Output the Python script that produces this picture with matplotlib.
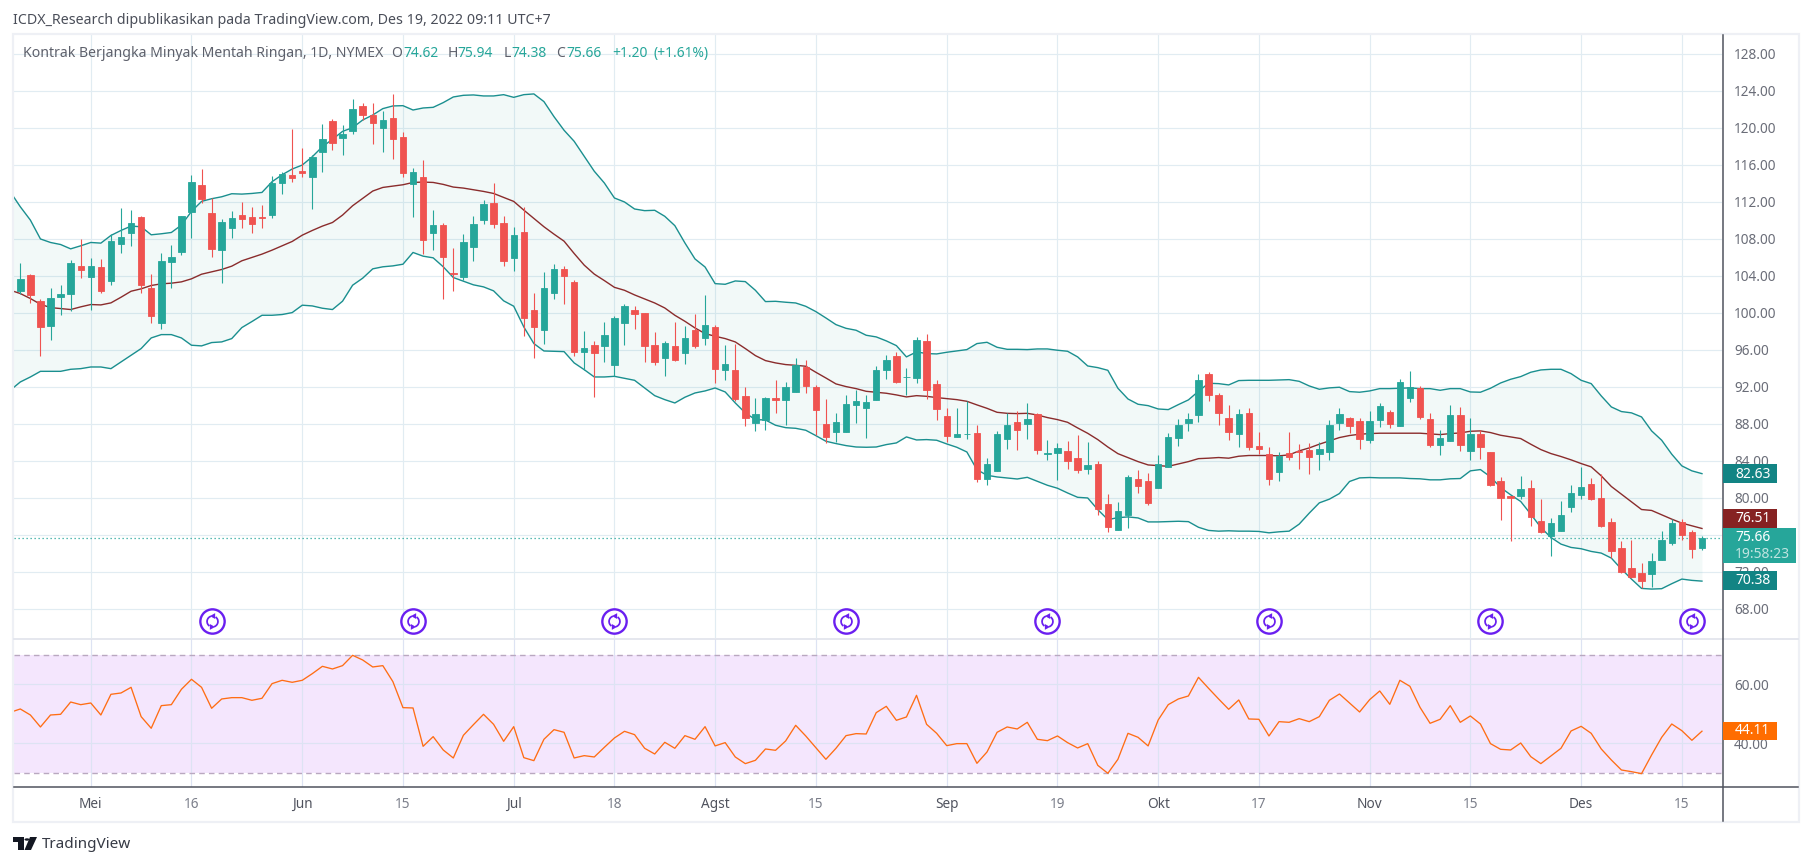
import numpy as np
import matplotlib

matplotlib.use("Agg")
import matplotlib.pyplot as plt
from matplotlib.lines import Line2D
from matplotlib.path import Path
from matplotlib.patches import Rectangle, Polygon, Wedge

# ── Candles ───────────────────────────────────────────────────────────────────
open_ = [
    102.39, 104.05, 101.34, 98.60, 101.74, 102.06, 105.13, 103.90, 105.02, 103.47,
    107.48, 108.67, 110.33, 102.68, 98.92, 105.53, 106.61, 110.94, 113.79, 110.76,
    106.83, 109.21, 110.54, 110.33, 110.33, 110.61, 114.08, 114.87, 115.30, 114.73,
    117.43, 120.72, 118.95, 119.71, 122.34, 121.37, 120.03, 121.08, 119.02, 113.97,
    114.66, 108.67, 109.46, 104.37, 103.90, 107.15, 110.04, 111.84, 109.68, 105.96,
    108.70, 100.37, 98.17, 102.17, 104.70, 103.40, 95.79, 96.58, 96.40, 94.34,
    98.89, 100.33, 100.00, 96.54, 95.10, 96.43, 95.64, 98.20, 97.26, 98.49,
    93.80, 93.84, 91.03, 88.07, 88.47, 90.81, 90.56, 91.50, 94.16, 92.04,
    88.04, 87.10, 87.10, 90.02, 89.69, 90.56, 93.80, 95.35, 93.05, 92.94,
    96.98, 92.33, 88.87, 86.56, 86.88, 87.03, 82.02, 82.88, 86.34, 88.22,
    87.97, 89.05, 84.76, 84.83, 85.08, 84.32, 83.10, 83.68, 79.35, 76.50,
    78.13, 82.05, 81.84, 81.05, 83.32, 86.45, 88.07, 88.94, 93.41, 91.14,
    88.65, 86.96, 89.19, 85.63, 84.73, 82.86, 84.84, 85.05, 85.20, 84.80,
    85.02, 88.15, 88.65, 88.29, 86.31, 88.44, 89.27, 87.83, 90.85, 91.86,
    88.51, 85.77, 86.21, 88.94, 85.13, 86.89, 84.95, 81.81, 80.19, 80.16,
    81.06, 77.49, 75.84, 76.45, 78.97, 80.34, 81.49, 79.98, 77.39, 74.58,
    72.42, 71.88, 71.73, 73.25, 75.15, 77.39, 76.34, 74.62,
]
close = [
    103.72, 101.96, 98.49, 101.67, 102.03, 105.35, 104.66, 105.13, 102.35, 107.73,
    108.16, 109.68, 103.00, 99.68, 105.67, 106.10, 110.43, 114.11, 112.35, 106.93,
    109.78, 110.22, 110.18, 109.64, 110.25, 114.04, 114.98, 114.62, 115.16, 116.82,
    118.77, 118.41, 119.31, 122.02, 121.44, 120.57, 120.83, 118.84, 115.16, 115.20,
    107.91, 109.46, 106.07, 104.23, 107.62, 109.57, 111.73, 109.64, 105.64, 108.38,
    99.50, 98.49, 102.75, 104.70, 104.01, 95.79, 96.25, 95.68, 97.62, 99.46,
    100.80, 99.86, 96.40, 94.67, 96.76, 94.92, 97.30, 96.40, 98.70, 93.95,
    94.49, 90.67, 88.61, 89.08, 90.81, 90.56, 92.00, 94.38, 92.07, 89.48,
    86.56, 88.22, 90.20, 90.49, 90.38, 93.84, 94.92, 92.51, 93.12, 97.08,
    91.64, 89.59, 86.67, 86.92, 86.96, 82.02, 83.68, 86.92, 87.89, 87.32,
    88.54, 85.15, 84.90, 85.41, 83.96, 82.99, 83.57, 78.78, 76.83, 78.59,
    82.27, 81.26, 79.50, 83.68, 86.60, 87.89, 88.54, 92.76, 91.10, 89.23,
    87.18, 89.05, 85.52, 85.31, 82.00, 84.55, 84.48, 84.98, 84.48, 85.31,
    87.90, 89.05, 87.83, 86.42, 88.29, 89.95, 88.04, 92.51, 91.97, 88.80,
    85.74, 86.46, 88.94, 85.74, 86.89, 85.56, 81.35, 80.01, 79.98, 80.95,
    77.89, 76.27, 77.28, 78.18, 80.52, 81.17, 79.94, 76.92, 74.22, 71.95,
    71.41, 70.98, 73.17, 75.44, 77.28, 76.02, 74.43, 75.66,
]
high = [
    105.35, 104.16, 101.49, 102.75, 103.00, 105.71, 107.98, 105.89, 105.78, 108.59,
    111.30, 111.08, 110.43, 104.19, 106.43, 107.30, 110.51, 114.87, 115.56, 112.38,
    110.11, 110.98, 111.99, 111.44, 111.66, 114.80, 115.20, 119.89, 117.79, 117.07,
    120.43, 120.93, 120.28, 123.13, 122.70, 122.67, 121.84, 123.64, 119.53, 115.63,
    116.53, 111.12, 109.68, 107.01, 108.52, 110.47, 112.20, 114.04, 110.47, 109.24,
    111.41, 102.14, 104.48, 105.24, 105.06, 103.51, 98.02, 97.01, 99.03, 99.64,
    100.98, 100.80, 100.04, 97.98, 97.01, 99.03, 98.60, 99.89, 101.98, 98.70,
    96.54, 96.69, 92.04, 90.81, 90.96, 92.79, 92.58, 95.17, 94.92, 92.25,
    90.74, 89.19, 91.14, 91.71, 91.14, 94.27, 95.46, 95.79, 94.09, 97.41,
    97.73, 92.76, 89.73, 89.73, 90.45, 87.89, 84.32, 87.24, 89.15, 89.41,
    90.27, 89.19, 86.27, 85.95, 86.16, 86.81, 86.05, 84.00, 80.43, 79.57,
    82.49, 83.06, 82.70, 84.65, 87.03, 88.54, 89.19, 93.41, 93.62, 91.32,
    90.06, 89.59, 89.73, 87.14, 85.49, 84.95, 87.10, 85.85, 85.92, 86.03,
    88.40, 89.73, 88.76, 88.62, 89.37, 90.27, 89.55, 92.83, 93.73, 92.11,
    89.16, 87.32, 90.06, 89.81, 88.62, 87.39, 84.98, 82.28, 80.23, 82.35,
    81.96, 79.87, 77.85, 79.65, 81.38, 83.33, 82.17, 82.64, 77.78, 75.37,
    75.48, 73.00, 74.04, 76.41, 77.71, 77.71, 76.52, 75.94,
]
low = [
    102.10, 101.13, 95.35, 97.08, 99.79, 100.26, 103.80, 100.30, 102.17, 103.00,
    106.50, 107.22, 102.17, 98.92, 98.28, 102.75, 106.25, 108.09, 111.91, 106.07,
    103.25, 108.12, 109.21, 108.67, 109.21, 110.29, 112.89, 114.19, 114.66, 111.26,
    115.27, 117.65, 117.11, 119.31, 120.83, 118.30, 117.43, 116.68, 114.66, 110.40,
    106.36, 106.79, 101.52, 102.39, 103.61, 105.64, 109.60, 109.21, 105.06, 104.55,
    97.52, 95.14, 96.62, 101.52, 100.95, 95.35, 93.87, 90.91, 94.67, 93.15,
    96.58, 98.24, 94.67, 94.34, 93.15, 94.85, 94.45, 96.18, 96.51, 92.47,
    92.72, 90.45, 87.75, 87.21, 87.39, 89.15, 87.86, 91.42, 91.32, 86.85,
    85.91, 86.02, 87.10, 88.07, 86.45, 90.56, 92.90, 92.40, 91.17, 92.40,
    90.67, 88.40, 86.05, 86.56, 86.34, 81.69, 81.37, 82.88, 85.33, 85.23,
    86.34, 84.72, 84.07, 81.91, 83.17, 82.67, 82.56, 78.20, 76.36, 76.50,
    76.72, 80.50, 79.28, 81.05, 83.32, 85.59, 87.21, 88.18, 90.49, 87.90,
    86.28, 85.56, 85.23, 84.73, 81.35, 81.78, 84.12, 83.15, 82.64, 83.04,
    84.12, 87.36, 87.07, 85.34, 85.95, 87.68, 87.57, 87.83, 90.38, 88.58,
    85.52, 84.66, 86.17, 85.13, 84.05, 84.26, 81.27, 77.67, 75.30, 79.87,
    76.92, 76.23, 73.68, 76.38, 78.43, 79.94, 79.73, 76.81, 73.50, 71.88,
    71.30, 70.26, 70.33, 73.25, 74.94, 75.44, 73.46, 74.38,
]

# ── Bollinger bands and RSI (first value belongs to the bar before the window) ─
bb_upper = [
    113.10, 111.48, 110.04, 108.00, 107.62, 107.40, 106.93, 107.26, 107.62, 107.55,
    108.38, 108.92, 109.39, 109.32, 108.45, 108.56, 108.70, 109.50, 110.98, 112.06,
    112.35, 112.56, 112.89, 112.85, 112.92, 113.03, 114.19, 114.94, 115.56, 115.99,
    116.89, 117.98, 118.77, 119.63, 120.03, 120.86, 121.40, 122.09, 122.38, 122.41,
    121.94, 122.16, 122.23, 122.74, 123.35, 123.53, 123.57, 123.46, 123.46, 123.60,
    123.31, 123.60, 123.68, 122.85, 121.22, 119.75, 118.56, 116.94, 115.32, 114.05,
    112.43, 112.00, 111.24, 111.06, 111.10, 110.45, 109.44, 107.57, 105.84, 104.97,
    103.17, 103.10, 103.46, 103.39, 102.45, 101.23, 101.26, 101.16, 101.08, 100.72,
    100.15, 99.46, 98.74, 98.34, 98.13, 97.59, 97.41, 96.98, 96.47, 95.25,
    95.79, 95.61, 95.57, 95.75, 95.89, 96.04, 96.69, 96.83, 96.29, 96.07,
    96.07, 96.04, 96.11, 96.11, 95.97, 95.86, 95.25, 94.27, 94.09, 93.80,
    91.86, 90.70, 90.13, 89.98, 89.62, 89.55, 90.09, 90.60, 91.53, 92.40,
    92.36, 92.22, 92.69, 92.72, 92.72, 92.72, 92.76, 92.79, 92.61, 92.11,
    91.75, 91.90, 91.97, 91.50, 91.43, 91.57, 91.82, 91.82, 91.86, 91.90,
    91.82, 91.82, 91.64, 91.82, 91.82, 91.46, 91.43, 91.86, 92.43, 92.83,
    93.12, 93.59, 93.84, 93.91, 93.91, 93.44, 92.72, 92.36, 91.03, 89.84,
    89.34, 89.20, 88.76, 87.25, 86.24, 84.73, 83.47, 82.93, 82.63,
]
bb_basis = [
    102.46, 102.10, 101.56, 100.94, 100.58, 100.48, 100.37, 100.66, 100.91, 100.87,
    101.09, 101.70, 102.35, 102.61, 102.97, 103.15, 103.22, 103.36, 103.69, 104.19,
    104.44, 104.70, 105.06, 105.64, 106.00, 106.36, 106.79, 107.26, 107.73, 108.41,
    108.92, 109.39, 109.78, 110.58, 111.59, 112.38, 113.18, 113.57, 113.72, 113.86,
    114.11, 114.15, 114.11, 113.90, 113.61, 113.50, 113.32, 113.14, 112.92, 112.49,
    112.06, 111.12, 110.22, 109.32, 108.52, 107.76, 106.43, 105.17, 104.20, 103.50,
    102.77, 102.45, 101.95, 101.51, 101.08, 100.54, 99.75, 99.10, 98.38, 97.77,
    97.48, 97.23, 96.87, 96.15, 95.39, 94.85, 94.60, 94.42, 94.34, 94.24,
    93.59, 92.97, 92.33, 92.04, 91.82, 91.53, 91.43, 91.32, 91.14, 90.92,
    91.06, 90.99, 90.85, 90.74, 90.63, 90.45, 90.06, 89.69, 89.26, 89.15,
    89.12, 89.15, 88.97, 88.69, 88.47, 88.18, 87.57, 86.99, 86.31, 85.51,
    84.79, 84.36, 83.93, 83.57, 83.50, 83.42, 83.68, 83.93, 84.25, 84.30,
    84.37, 84.30, 84.51, 84.59, 84.59, 84.59, 84.55, 84.66, 85.09, 85.41,
    85.81, 86.17, 86.53, 86.75, 86.89, 86.96, 87.00, 87.00, 87.00, 87.00,
    87.00, 86.93, 86.85, 86.96, 87.03, 87.21, 87.25, 87.07, 86.78, 86.60,
    86.42, 85.81, 85.23, 84.80, 84.48, 84.12, 83.72, 83.36, 82.39, 81.24,
    80.41, 79.58, 78.75, 78.65, 78.18, 77.71, 77.28, 76.99, 76.70,
]
bb_lower = [
    91.64, 92.54, 93.08, 93.69, 93.69, 93.69, 93.91, 93.98, 94.16, 94.16,
    93.98, 94.70, 95.43, 96.15, 97.30, 97.66, 97.66, 97.30, 96.51, 96.44,
    96.80, 96.87, 97.23, 98.42, 99.07, 99.75, 99.75, 99.83, 100.04, 100.84,
    100.76, 100.51, 100.37, 101.27, 103.00, 103.76, 104.77, 104.99, 105.09, 105.27,
    106.54, 106.14, 105.96, 104.99, 103.83, 103.43, 103.04, 102.82, 102.39, 101.31,
    100.73, 98.49, 96.69, 95.89, 95.86, 95.82, 94.60, 93.87, 93.08, 93.08,
    93.15, 92.94, 92.72, 91.89, 91.06, 90.63, 90.27, 90.89, 91.35, 91.57,
    91.89, 91.46, 90.27, 89.19, 88.47, 88.43, 87.86, 87.60, 87.53, 87.32,
    86.74, 86.13, 85.88, 85.66, 85.51, 85.48, 85.51, 85.77, 85.95, 86.60,
    86.27, 86.31, 86.24, 85.84, 85.48, 84.97, 83.06, 82.45, 82.27, 82.16,
    82.05, 82.23, 81.80, 81.37, 81.05, 80.54, 80.07, 80.00, 78.74, 77.66,
    77.87, 77.95, 77.84, 77.41, 77.41, 77.44, 77.48, 77.44, 76.83, 76.49,
    76.41, 76.45, 76.41, 76.41, 76.38, 76.23, 76.34, 76.41, 77.17, 78.36,
    79.47, 79.87, 80.48, 81.78, 82.17, 82.21, 82.17, 82.17, 82.17, 82.10,
    82.07, 81.96, 81.96, 82.07, 82.10, 82.93, 83.07, 82.28, 81.13, 80.34,
    79.62, 78.25, 76.81, 75.73, 75.01, 74.65, 74.51, 74.22, 74.04, 73.50,
    72.31, 71.23, 70.22, 70.15, 70.19, 70.73, 71.23, 71.09, 71.01,
]
rsi = [
    50.50, 51.64, 49.60, 45.54, 49.60, 49.83, 54.00, 53.10, 53.67, 49.60,
    56.61, 57.06, 58.98, 49.04, 45.10, 52.77, 53.10, 58.31, 61.70, 58.98,
    51.87, 55.03, 55.48, 55.48, 54.58, 55.26, 60.23, 61.36, 60.68, 61.36,
    63.62, 66.10, 65.20, 66.33, 69.83, 68.25, 65.88, 66.33, 60.91, 52.09,
    51.98, 38.98, 42.26, 37.74, 35.03, 42.71, 46.33, 49.83, 46.44, 40.68,
    45.65, 35.14, 34.12, 41.36, 44.63, 43.73, 35.03, 35.82, 35.37, 38.64,
    41.81, 44.07, 42.94, 38.31, 36.38, 40.34, 38.31, 42.60, 41.36, 45.65,
    39.12, 40.23, 35.37, 33.11, 34.24, 38.08, 37.63, 40.79, 46.10, 42.49,
    38.53, 34.58, 38.31, 42.60, 43.28, 43.16, 50.40, 52.54, 47.80, 48.93,
    56.27, 46.44, 43.39, 39.21, 39.89, 39.89, 33.22, 37.06, 43.73, 45.54,
    44.86, 47.12, 41.36, 40.90, 42.49, 40.23, 38.42, 39.89, 32.54, 29.83,
    34.58, 43.39, 42.03, 39.12, 47.91, 53.11, 55.03, 56.05, 62.37, 58.65,
    55.03, 51.53, 54.69, 48.25, 48.14, 42.49, 47.34, 47.12, 48.36, 47.34,
    49.04, 54.58, 56.72, 53.67, 50.62, 54.80, 57.74, 53.22, 61.36, 59.32,
    52.20, 46.78, 48.14, 52.77, 47.12, 49.27, 46.55, 39.89, 37.97, 37.74,
    40.11, 35.48, 33.11, 35.71, 38.31, 44.18, 45.76, 43.39, 38.08, 34.35,
    30.96, 30.39, 29.72, 36.05, 42.03, 46.55, 44.29, 41.02, 44.11,
]

# ── Axis contents ─────────────────────────────────────────────────────────────
date_bars = [8, 18, 29, 39, 50, 60, 70, 80, 93, 104, 114, 124, 135, 145, 156, 166]
date_labels = ["Mei", "16", "Jun", "15", "Jul", "18", "Agst", "15",
               "Sep", "19", "Okt", "17", "Nov", "15", "Des", "15"]
month_names = ["Mei", "Jun", "Jul", "Agst", "Sep", "Okt", "Nov", "Des"]
price_ticks = [68, 72, 76, 80, 84, 88, 92, 96, 100, 104, 108, 112, 116, 120, 124, 128]
rsi_ticks = [40, 60]
rollover_bars = [20, 40, 60, 83, 103, 125, 147, 167]

# ── Colours and layout (pixels of the 1813x866 picture) ───────────────────────
W, H = 1813, 866
UP, DOWN = "#26a69a", "#ef5350"
GRID = "#e1ecf2"
TEXT = "#5d606b"
AXIS = "#50535e"
BAND = "#1a8f8f"
BOX_BAND = "#128484"
BOX_BASIS = "#862222"
ORANGE = "#ff6d00"
PURPLE = "#6a1ff0"
plt.rcParams["font.family"] = ["Noto Sans", "DejaVu Sans"]


def fx(x):
    return x / W


def fy(y):
    return 1 - y / H


def pane(left, top, right, bottom):
    return fig.add_axes([fx(left), fy(bottom), (right - left) / W, (bottom - top) / H])


def text_px(x, y, s, **kw):
    kw.setdefault("va", "center")
    kw.setdefault("fontsize", 10)
    return fig.text(fx(x), fy(y), s, **kw)


def box_px(x0, y0, x1, y1, color, z=5):
    fig.add_artist(Rectangle((fx(x0), fy(y1)), (x1 - x0) / W, (y1 - y0) / H, transform=fig.transFigure,
                             facecolor=color, edgecolor="none", zorder=z))


def rollover_glyph():
    # two arcs on the sides with arrow heads at top and bottom, used as a marker
    parts = [Wedge((0, 0), 1.0, 110, 235, width=0.28).get_path(),
             Wedge((0, 0), 1.0, 290, 415, width=0.28).get_path(),
             Path([(0.42, 1.32), (-0.42, 0.86), (0.42, 0.40), (0.42, 1.32)], closed=True),
             Path([(-0.42, -1.32), (0.42, -0.86), (-0.42, -0.40), (-0.42, -1.32)], closed=True)]
    return Path.make_compound_path(*parts)


fig = plt.figure(figsize=(W / 100, H / 100), dpi=100, facecolor="white")
ax = pane(14, 35, 1722, 638)
ax_rsi = pane(14, 639, 1722, 787)
xlim = (0.374, 169.99)

# ── Main pane ─────────────────────────────────────────────────────────────────
bars = np.arange(1, len(close) + 1)
line_bars = np.arange(0, len(close) + 1)
o, c, h, l = map(np.array, (open_, close, high, low))
colors = np.where(c >= o, UP, DOWN)

ax.fill_between(line_bars, bb_lower, bb_upper, color="#009688", alpha=0.05, linewidth=0, zorder=1)
ax.plot(line_bars, bb_upper, color=BAND, lw=1.0, zorder=2)
ax.plot(line_bars, bb_lower, color=BAND, lw=1.0, zorder=2)
ax.plot(line_bars, bb_basis, color="#8a2c2c", lw=1.0, zorder=2)
ax.vlines(bars, l, h, colors=colors, lw=0.8, zorder=3)
ax.bar(bars, np.abs(c - o), bottom=np.minimum(o, c), width=0.64, color=colors,
       edgecolor=colors, linewidth=0.6, zorder=4)
ax.axhline(close[-1], color=UP, lw=0.9, ls=(0, (1, 2.2)), zorder=2)

icon_y = np.full(len(rollover_bars), 66.67)
ax.plot(rollover_bars, icon_y, ls="none", marker="o", ms=17.5, mfc="white", mec=PURPLE, mew=1.7, zorder=5)
ax.plot(rollover_bars, icon_y, ls="none", marker=rollover_glyph(), ms=12, mfc=PURPLE, mec="none", zorder=6)

ax.set_xlim(*xlim)
ax.set_ylim(64.86, 130.05)
ax.set_yticks(price_ticks)
ax.set_yticklabels([f"{t:.2f}" for t in price_ticks])
ax.set_xticks(date_bars)
ax.yaxis.tick_right()
ax.tick_params(axis="y", length=0, pad=8.6, labelsize=9.8, labelcolor="#6a6d78")
ax.tick_params(axis="x", length=0, labelbottom=False)
ax.grid(True, color=GRID, lw=0.85)
ax.set_axisbelow(True)
for s in ax.spines.values():
    s.set_visible(False)

# ── RSI pane ──────────────────────────────────────────────────────────────────
ax_rsi.axhspan(30, 70, color="#f4e6fd", lw=0, zorder=0)
ax_rsi.axhline(70, color="#b9a8c0", lw=1, ls=(0, (4, 3)), zorder=1)
ax_rsi.axhline(30, color="#b9a8c0", lw=1, ls=(0, (4, 3)), zorder=1)
ax_rsi.plot(line_bars, rsi, color="#ff6d14", lw=0.95, zorder=3)
ax_rsi.set_xlim(*xlim)
ax_rsi.set_ylim(25.19, 75.36)
ax_rsi.set_yticks(rsi_ticks)
ax_rsi.set_yticklabels([f"{t:.2f}" for t in rsi_ticks])
ax_rsi.set_xticks(date_bars)
ax_rsi.set_xticklabels(date_labels)
ax_rsi.yaxis.tick_right()
ax_rsi.tick_params(axis="y", length=0, pad=8.6, labelsize=9.8, labelcolor="#6a6d78")
ax_rsi.tick_params(axis="x", length=0, pad=7, labelsize=9.8, labelcolor="#7b7e8a")
for lab in ax_rsi.get_xticklabels():
    if lab.get_text() in month_names:
        lab.set_fontweight("bold")
        lab.set_color(AXIS)
ax_rsi.grid(True, color="#dde3f3", lw=0.85, zorder=0.5)
ax_rsi.set_axisbelow(True)
for s in ax_rsi.spines.values():
    s.set_visible(False)

# ── Frame and axis lines ──────────────────────────────────────────────────────
fig.add_artist(Rectangle((fx(13), fy(822)), (1799 - 13) / W, (822 - 34) / H, transform=fig.transFigure,
                         facecolor="none", edgecolor="#eef0f5", lw=1.6, zorder=4))
fig.add_artist(Line2D([fx(14), fx(1798)], [fy(638.5)] * 2, color="#e0e3eb", lw=1.2, zorder=4))
fig.add_artist(Line2D([fx(14), fx(1798)], [fy(787)] * 2, color=AXIS, lw=1.1, zorder=4))
fig.add_artist(Line2D([fx(1722.5)] * 2, [fy(35), fy(821)], color=AXIS, lw=1.1, zorder=4))

# ── Price boxes on the scale ──────────────────────────────────────────────────
box_px(1723, 464, 1777, 483, BOX_BAND)
text_px(1735, 474, "82.63", color="white", zorder=6)
box_px(1723, 509, 1777, 528, BOX_BASIS)
text_px(1735, 519, "76.51", color="white", zorder=6)
box_px(1723, 528, 1796, 563, UP)
text_px(1735, 537.5, "75.66", color="white", zorder=6)
text_px(1735, 554, "19:58:23", color="#bfe4e0", zorder=6)
box_px(1723, 571, 1777, 590, BOX_BAND)
text_px(1735, 581, "70.38", color="white", zorder=6)
box_px(1723, 722, 1777, 740, ORANGE)
text_px(1735, 731, "44.11", color="white", zorder=6)

# ── Header, legend line and logo ──────────────────────────────────────────────
text_px(13, 20, "ICDX_Research dipublikasikan pada TradingView.com, Des 19, 2022 09:11 UTC+7",
        color="#4a4e59", fontsize=10.23)
text_px(23, 53.5, "Kontrak Berjangka Minyak Mentah Ringan, 1D, NYMEX", color=TEXT, fontsize=10.12)
for x, s, col in [(391, "O", TEXT), (403, "74.62", UP), (447.5, "H", TEXT), (457, "75.94", UP),
                  (504, "L", TEXT), (511.5, "74.38", UP), (556.5, "C", TEXT), (566, "75.66", UP),
                  (612, "+1.20", UP), (654, "(+1.61%)", UP)]:
    text_px(x, 53.5, s, color=col)

logo = "#131722"
fig.add_artist(Polygon([(fx(13), fy(837)), (fx(24), fy(837)), (fx(24), fy(850)), (fx(18), fy(850)),
                        (fx(18), fy(842)), (fx(13), fy(842))], transform=fig.transFigure, fc=logo, ec="none"))
fig.add_artist(Polygon([(fx(30), fy(837)), (fx(37), fy(837)), (fx(31), fy(850)), (fx(24.5), fy(850))],
                       transform=fig.transFigure, fc=logo, ec="none"))
fig.add_artist(plt.Circle((fx(27), fy(839.5)), 0.0014, transform=fig.transFigure, fc=logo, ec="none"))
text_px(42, 845, "TradingView", color="#363a45", fontsize=11)

fig.savefig("out.png", dpi=100)
